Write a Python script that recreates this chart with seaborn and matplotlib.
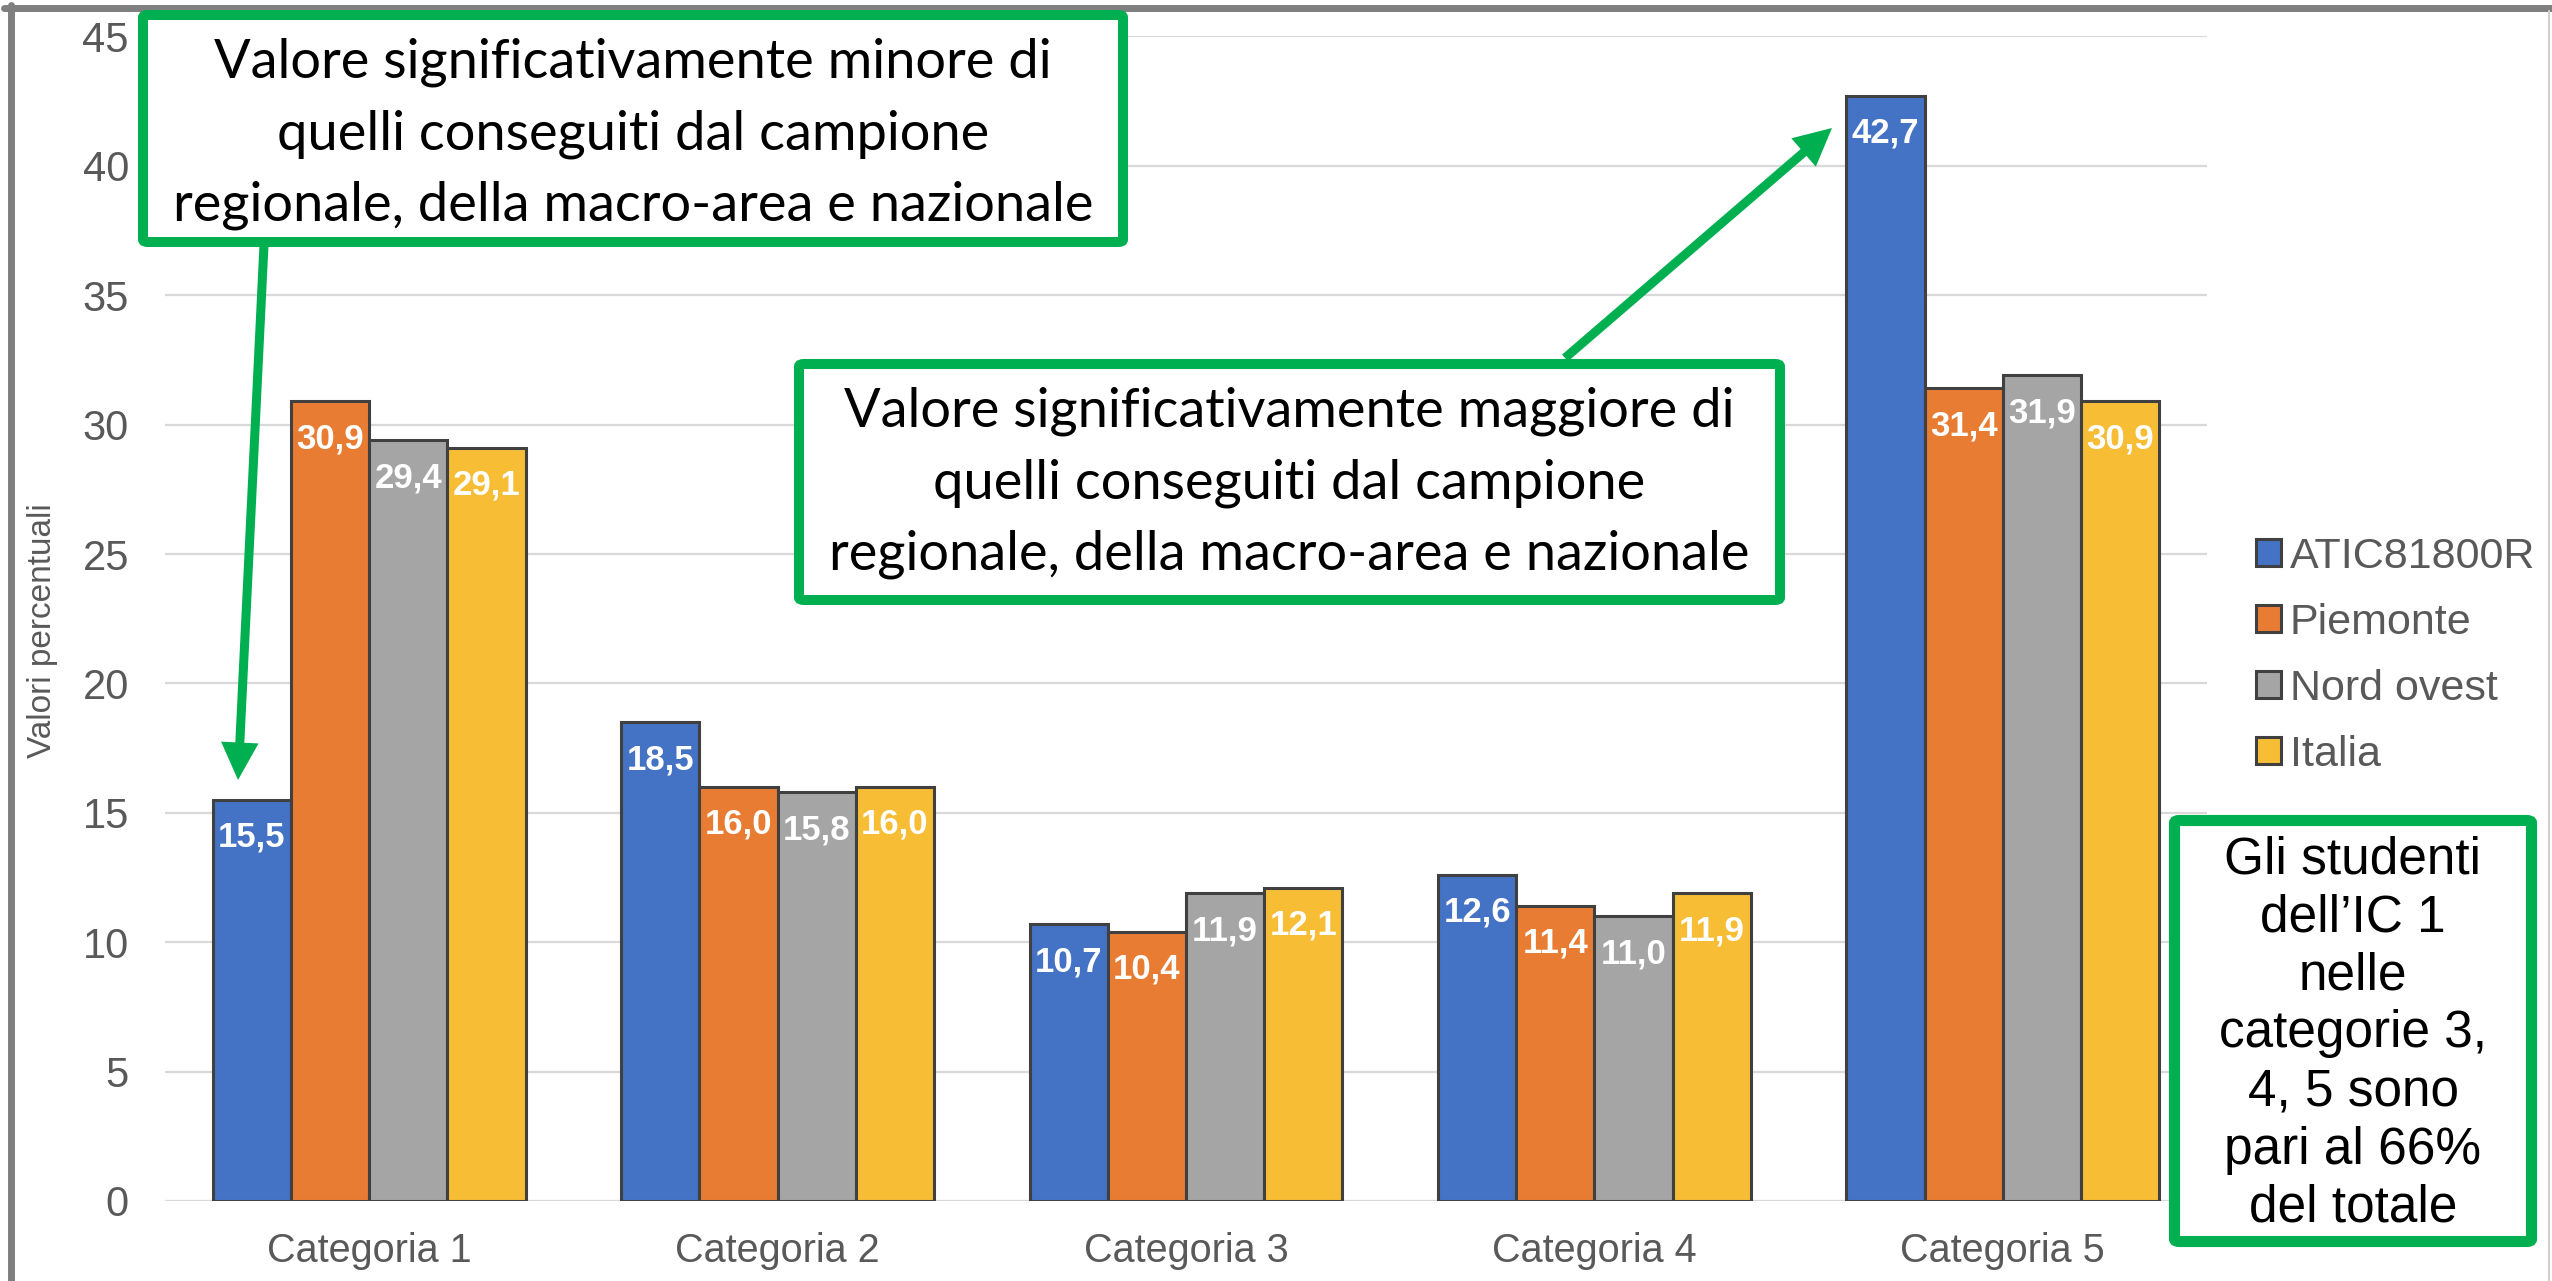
import numpy as np
import pandas as pd
import matplotlib
matplotlib.use("Agg")
import matplotlib.pyplot as plt
import seaborn as sns
from matplotlib.patches import FancyBboxPatch, FancyArrowPatch
from matplotlib.lines import Line2D

# ---------------- data ----------------
categories = ["Categoria 1", "Categoria 2", "Categoria 3", "Categoria 4", "Categoria 5"]
series = ["ATIC81800R", "Piemonte", "Nord ovest", "Italia"]
atic = [15.5, 18.5, 10.7, 12.6, 42.7]
piemonte = [30.9, 16.0, 10.4, 11.4, 31.4]
nord_ovest = [29.4, 15.8, 11.9, 11.0, 31.9]
italia = [29.1, 16.0, 12.1, 11.9, 30.9]
y_ticks = [0, 5, 10, 15, 20, 25, 30, 35, 40, 45]

box1_text = ("Valore significativamente minore di\n"
             "quelli conseguiti dal campione\n"
             "regionale, della macro-area e nazionale")
box2_text = ("Valore significativamente maggiore di\n"
             "quelli conseguiti dal campione\n"
             "regionale, della macro-area e nazionale")
box3_text = ("Gli studenti\ndell\u2019IC 1\nnelle\ncategorie 3,\n4, 5 sono\npari al 66%\ndel totale")

values = [atic, piemonte, nord_ovest, italia]
df = pd.DataFrame({
    "Categoria": np.repeat([categories], len(series), axis=0).ravel(),
    "Serie": np.repeat(series, len(categories)),
    "Valore": np.concatenate(values),
})

# ---------------- style ----------------
W, H = 2552, 1281
sns.set_style("white")
plt.rcParams["font.family"] = ["Liberation Sans", "DejaVu Sans"]

colors = ["#4472C4", "#E97C33", "#A5A5A5", "#F6BD35"]
edge = "#404040"
txt_gray = "#595959"
green = "#00B050"

fig = plt.figure(figsize=(W / 100, H / 100), dpi=100)
fig.patch.set_facecolor("white")

def fx(x):
    return x / W

def fy(y):
    return 1 - y / H

ax_left, ax_right, ax_top, ax_bottom = 165, 2207, 36.4, 1201
ax = fig.add_axes([fx(ax_left), fy(ax_bottom), (ax_right - ax_left) / W, (ax_bottom - ax_top) / H])

sns.barplot(data=df, x="Categoria", y="Valore", hue="Serie", palette=colors,
            width=0.766, edgecolor=edge, linewidth=2.2, saturation=1,
            legend=False, ax=ax)

ax.set_xlim(-0.5, 4.5)
ax.set_ylim(0, 45)
ax.set_yticks(y_ticks)
ax.set_yticklabels([str(t) for t in y_ticks])
ax.yaxis.grid(True, color="#D9D9D9", linewidth=1.6)
ax.xaxis.grid(False)
ax.set_axisbelow(True)
for s in ax.spines.values():
    s.set_visible(False)
ax.tick_params(axis="both", length=0, colors=txt_gray)
ax.tick_params(axis="y", labelsize=30, pad=26)
ax.tick_params(axis="x", labelsize=28.5, pad=22)
ax.set_xlabel("")
ax.set_ylabel("Valori percentuali", fontsize=24, color=txt_gray)
ax.yaxis.label.set_va("center")
ax.yaxis.set_label_coords((43 - ax_left) / (ax_right - ax_left), 0.49)

# value labels
for cont, vals in zip(ax.containers, values):
    for bar, v in zip(cont, vals):
        ax.annotate(f"{v:.1f}".replace(".", ","),
                    xy=(bar.get_x() + bar.get_width() / 2, bar.get_height()),
                    xytext=(0, -27), textcoords="offset points",
                    ha="center", va="center", color="white",
                    fontweight="bold", fontsize=25)

# legend
leg = ax.legend(ax.containers, series, loc="upper left",
                bbox_to_anchor=(fx(2256), fy(537)), bbox_transform=fig.transFigure,
                frameon=False, fontsize=31, labelcolor=txt_gray,
                handlelength=0.58, handleheight=0.58, handletextpad=0.2,
                labelspacing=0.6, borderpad=0, borderaxespad=0)

# outer frame
fig.add_artist(Line2D([fx(4), fx(W)], [fy(8), fy(8)], color="#7F7F7F", linewidth=5.0,
                      transform=fig.transFigure))
fig.add_artist(Line2D([fx(10.5), fx(10.5)], [fy(4.5), fy(H)], color="#7F7F7F", linewidth=5.0,
                      transform=fig.transFigure))
fig.add_artist(Line2D([fx(2549), fx(2549)], [fy(11), fy(H)], color="#D0D0D0", linewidth=1.5,
                      transform=fig.transFigure))

# arrows
def arrow(x0, y0, x1, y1):
    a = FancyArrowPatch((fx(x0), fy(y0)), (fx(x1), fy(y1)), transform=fig.transFigure,
                        arrowstyle="simple,head_length=27,head_width=27,tail_width=6.5",
                        mutation_scale=1, color=green, linewidth=0,
                        shrinkA=0, shrinkB=0, zorder=5)
    fig.add_artist(a)

arrow(264, 245, 238, 780)
arrow(1565, 358, 1832, 128)

# annotation boxes
def box(x0, y0, x1, y1, lw):
    p = FancyBboxPatch((fx(x0), fy(y1)), fx(x1) - fx(x0), fy(y0) - fy(y1),
                       boxstyle="round,pad=0,rounding_size=0.002",
                       transform=fig.transFigure, facecolor="white",
                       edgecolor=green, linewidth=lw, zorder=6)
    fig.add_artist(p)

box(143, 15, 1123, 242, 7.2)
box(799, 364, 1780, 600, 7.2)
box(2174.5, 820.5, 2531.5, 1241.5, 8.0)

fig.text(fx(633), fy(134), box1_text, ha="center", va="center", fontsize=39,
         family=["Lato", "DejaVu Sans"], color="black", linespacing=1.55, zorder=7)
fig.text(fx(1289.5), fy(483), box2_text, ha="center", va="center", fontsize=39,
         family=["Lato", "DejaVu Sans"], color="black", linespacing=1.55, zorder=7)
fig.text(fx(2353), fy(1034), box3_text, ha="center", va="center", fontsize=37,
         family=["Liberation Sans", "DejaVu Sans"], color="black", linespacing=1.24, zorder=7)

fig.savefig("out.png", dpi=100)
